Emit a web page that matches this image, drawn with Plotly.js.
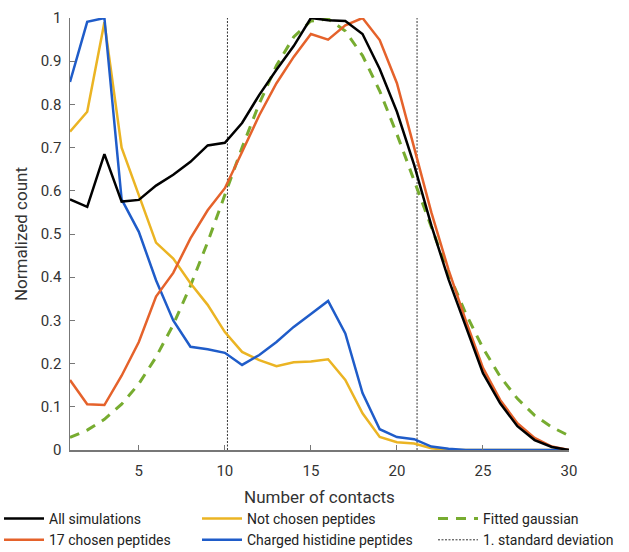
<!DOCTYPE html>
<html>
<head>
<meta charset="utf-8">
<script src="https://cdn.plot.ly/plotly-3.0.1.min.js"></script>
<style>html,body{margin:0;padding:0;background:#fff}#chart{width:629px;height:552px}</style>
</head>
<body>
<div id="chart"></div>
<script>
// Number of contacts (x)
const contacts = [1,2,3,4,5,6,7,8,9,10,11,12,13,14,15,16,17,18,19,20,21,22,23,24,25,26,27,28,29,30];

const allSimulations = [0.58,0.563,0.685,0.575,0.579,0.612,0.637,0.667,0.705,0.711,0.757,0.822,0.88,0.935,1.0,0.995,0.993,0.963,0.882,0.783,0.66,0.52,0.395,0.285,0.178,0.108,0.055,0.023,0.007,0.0];
const chosen17 = [0.162,0.106,0.104,0.172,0.25,0.355,0.41,0.49,0.555,0.606,0.69,0.775,0.849,0.91,0.963,0.95,0.983,1.0,0.949,0.849,0.7,0.55,0.417,0.3,0.19,0.116,0.062,0.028,0.008,0.0];
const notChosen = [0.737,0.783,0.99,0.70,0.59,0.48,0.443,0.386,0.336,0.273,0.227,0.208,0.194,0.203,0.205,0.21,0.162,0.085,0.03,0.018,0.015,0.004,0.0,0.0,0.0,0.0,0.0,0.0,0.0,0.0];
const chargedHis = [0.852,0.991,1.0,0.58,0.505,0.393,0.30,0.239,0.233,0.225,0.197,0.22,0.25,0.285,0.315,0.345,0.27,0.132,0.048,0.03,0.025,0.008,0.003,0.0,0.0,0.0,0.0,0.0,0.0,0.0];
const fittedGaussian = [0.029,0.046,0.071,0.106,0.153,0.215,0.29,0.38,0.481,0.59,0.70,0.802,0.89,0.956,0.993,0.998,0.97,0.913,0.831,0.731,0.623,0.514,0.409,0.316,0.236,0.17,0.119,0.08,0.053,0.033];

// standard deviation bounds
const stdLower = 10.15;
const stdUpper = 21.17;

const yTicks = [0,0.1,0.2,0.3,0.4,0.5,0.6,0.7,0.8,0.9,1];
const yTickText = ['0','0.1','0.2','0.3','0.4','0.5','0.6','0.7','0.8','0.9','1'];
const xTicks = [5,10,15,20,25,30];

const traces = [
  {x:[stdLower,stdLower], y:[0,1], mode:'lines', name:'1. standard deviation', legend:'legend3', legendrank:2,
   line:{color:'#333', width:1, dash:'2px,1.5px'}},
  {x:[stdUpper,stdUpper], y:[0,1], mode:'lines', showlegend:false, line:{color:'#333', width:1, dash:'2px,1.5px'}},
  {x:contacts, y:fittedGaussian, mode:'lines', name:'Fitted gaussian', legend:'legend3', legendrank:1,
   line:{color:'#77AC30', width:3, dash:'10px,8px'}},
  {x:contacts, y:notChosen, mode:'lines', name:'Not chosen peptides', legend:'legend2', legendrank:1,
   line:{color:'#EBB423', width:2.5}},
  {x:contacts, y:chargedHis, mode:'lines', name:'Charged histidine peptides', legend:'legend2', legendrank:2,
   line:{color:'#1F5CC9', width:2.5}},
  {x:contacts, y:chosen17, mode:'lines', name:'17 chosen peptides', legend:'legend', legendrank:2,
   line:{color:'#E5622B', width:2.5}},
  {x:contacts, y:allSimulations, mode:'lines', name:'All simulations', legend:'legend', legendrank:1,
   line:{color:'#000000', width:2.5}}
];

const legendBase = {orientation:'v', xanchor:'left', yanchor:'top',
  y:(450-503)/432, bgcolor:'rgba(0,0,0,0)', font:{family:'Roboto, sans-serif', size:14, color:'#222'},
  tracegroupgap:0, itemwidth:40};

const layout = {
  width:629, height:552,
  margin:{l:70, r:60, t:18, b:102, autoexpand:false},
  paper_bgcolor:'#fff', plot_bgcolor:'#fff',
  font:{family:'Roboto, sans-serif', color:'#333', size:15},
  xaxis:{range:[1,30], tickvals:xTicks, ticks:'inside', ticklen:5, tickcolor:'#777',
    showline:true, linecolor:'#777', linewidth:1.5, showgrid:false, zeroline:false,
    tickfont:{size:15, color:'#333'}, ticklabelstandoff:6, automargin:false,
    title:{text:'Number of contacts', font:{size:17, color:'#333'}, standoff:12}},
  yaxis:{range:[0,1], tickvals:yTicks, ticktext:yTickText, ticks:'inside', ticklen:5, tickcolor:'#777',
    showline:true, linecolor:'#777', linewidth:1.5, showgrid:false, zeroline:false,
    tickfont:{size:15, color:'#333'}, ticklabelstandoff:4, automargin:false,
    title:{text:'Normalized count', font:{size:17, color:'#333'}, standoff:8}},
  showlegend:true,
  legend:Object.assign({}, legendBase, {x:(-1-70)/499}),
  legend2:Object.assign({}, legendBase, {x:(197-70)/499}),
  legend3:Object.assign({}, legendBase, {x:(433-70)/499})
};

Plotly.newPlot('chart', traces, layout, {displayModeBar:false, staticPlot:true});
</script>
</body>
</html>
